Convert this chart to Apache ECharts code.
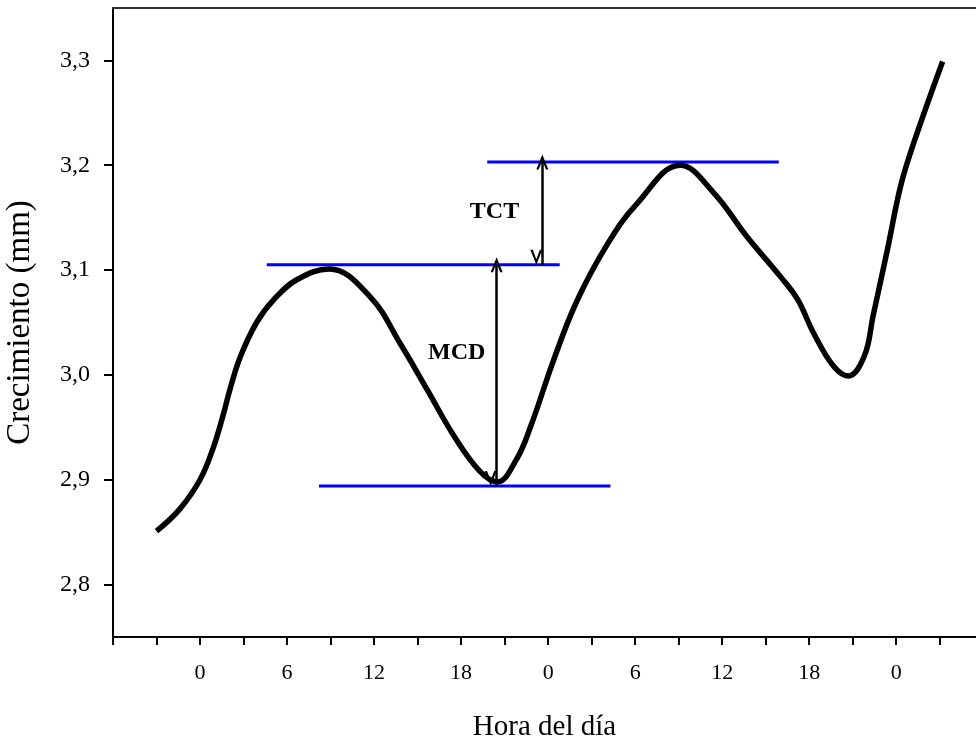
<!DOCTYPE html>
<html>
<head>
	<meta charset="utf-8">
	<title>Crecimiento</title>
	<script src="https://cdn.jsdelivr.net/npm/echarts@6/dist/echarts.min.js"></script>
	<style type="text/css">
		body{ margin:0; background:#ffffff; }
		#chartContainer{ width:976px; height:737px; }
	</style>
</head>
<body>
	<div id="chartContainer"></div>
	<script type="text/javascript">
		// curve: hours from first midnight, growth in mm
		var hours=[-3,-1.4,0,0.9,1.6,2.1,2.8,3.9,5.1,6.7,8.9,11.7,13.8,15.7,17.5,19.3,20.5,21.8,22.8,24.4,26.0,28.1,30.1,33.1,35.4,37.7,40.0,41.2,42.3,43.7,44.7,45.8,46.4,47.4,48.3,49.2,51.2];
		var growth=[2.851,2.872,2.900,2.930,2.962,2.988,3.018,3.050,3.072,3.091,3.101,3.075,3.030,2.985,2.942,2.908,2.898,2.919,2.951,3.015,3.071,3.125,3.163,3.200,3.174,3.132,3.094,3.072,3.040,3.008,2.999,3.018,3.056,3.120,3.180,3.221,3.299];
		// blue reference levels
		var levelValues=[3.203,3.105,2.894];
		var levelStart=[19.8,4.6,8.2];
		var levelEnd=[39.9,24.8,28.3];
		// arrows
		var arrowX=[23.6,20.45];
		var arrowFrom=[3.203,3.105];
		var arrowTo=[3.105,2.894];
		// annotations
		var noteNames=["TCT","MCD"];
		var noteX=[20.3,17.7];
		var noteY=[3.156,3.021];
		// ticks
		var xTicks=[-6,-3,0,3,6,9,12,15,18,21,24,27,30,33,36,39,42,45,48,51];
		var xLabels=[0,6,12,18,24,30,36,42,48];
		var yTicks=[2.8,2.9,3.0,3.1,3.2,3.3];

		var serif="'Liberation Serif','Times New Roman',serif";

		function pairs(a,b){
			var out=[];
			for(var i=0;i<a.length;i++){ out.push([a[i],b[i]]); }
			return out;
		}

		var series=[];
		series.push({
			type:"line",
			data:pairs(hours,growth),
			smooth:0.4,
			showSymbol:false,
			lineStyle:{color:"#000000",width:5.5},
			z:3
		});
		for(var i=0;i<levelValues.length;i++){
			series.push({
				type:"line",
				data:[[levelStart[i],levelValues[i]],[levelEnd[i],levelValues[i]]],
				showSymbol:false,
				lineStyle:{color:"#0000ff",width:3},
				z:2
			});
		}
		var arrowLines=[];
		for(var j=0;j<arrowX.length;j++){
			arrowLines.push([{coord:[arrowX[j],arrowFrom[j]]},{coord:[arrowX[j],arrowTo[j]]}]);
		}
		var chevron="path://M10,0 L20,24 L16,24 L10,9 L4,24 L0,24 Z";
		series.push({
			type:"scatter",
			data:pairs(noteX,noteY).map(function(p,k){ return {name:noteNames[k],value:p}; }),
			symbolSize:0,
			itemStyle:{opacity:1},
			label:{
				show:true,
				position:"inside",
				formatter:"{b}",
				color:"#000000",
				textBorderWidth:0,
				fontFamily:serif,
				fontWeight:"bold",
				fontSize:24
			},
			markLine:{
				silent:true,
				symbol:[chevron,chevron],
				symbolSize:[12,15],
				symbolOffset:[0,"50%"],
				label:{show:false},
				lineStyle:{color:"#000000",width:2.5,type:"solid",opacity:1},
				data:arrowLines
			},
			z:4
		});

		var myChart=echarts.init(document.getElementById("chartContainer"));
		var option={
			animation:false,
			grid:{left:113,right:0,top:8,bottom:100,outerBoundsMode:"none"},
			xAxis:[{
				type:"value",
				min:-6,
				max:53.5,
				name:"Hora del día",
				nameLocation:"middle",
				nameGap:76,
				nameTextStyle:{fontFamily:serif,fontSize:29,color:"#000000"},
				splitLine:{show:false},
				axisLine:{onZero:false,lineStyle:{color:"#000000",width:2}},
				axisTick:{show:true,length:8,customValues:xTicks,lineStyle:{color:"#000000",width:2}},
				axisLabel:{
					customValues:xLabels,
					margin:25,
					fontFamily:serif,
					fontSize:22,
					color:"#000000",
					formatter:function(v){ return String(((v%24)+24)%24); }
				}
			},{
				type:"value",
				position:"top",
				min:-6,
				max:53.5,
				splitLine:{show:false},
				axisLine:{show:true,onZero:false,lineStyle:{color:"#333333",width:2}},
				axisTick:{show:false},
				axisLabel:{show:false}
			}],
			yAxis:{
				type:"value",
				min:2.75,
				max:3.35,
				name:"Crecimiento (mm)",
				nameLocation:"middle",
				nameGap:76,
				nameTextStyle:{fontFamily:serif,fontSize:33,color:"#000000"},
				splitLine:{show:false},
				axisLine:{show:true,onZero:false,lineStyle:{color:"#000000",width:2}},
				axisTick:{show:true,length:9,customValues:yTicks,lineStyle:{color:"#000000",width:2}},
				axisLabel:{
					customValues:yTicks,
					margin:23,
					fontFamily:serif,
					fontSize:24,
					color:"#000000",
					formatter:function(v){ return v.toFixed(1).replace(".",","); }
				}
			},
			series:series
		};
		myChart.setOption(option);
	</script>
</body>
</html>
